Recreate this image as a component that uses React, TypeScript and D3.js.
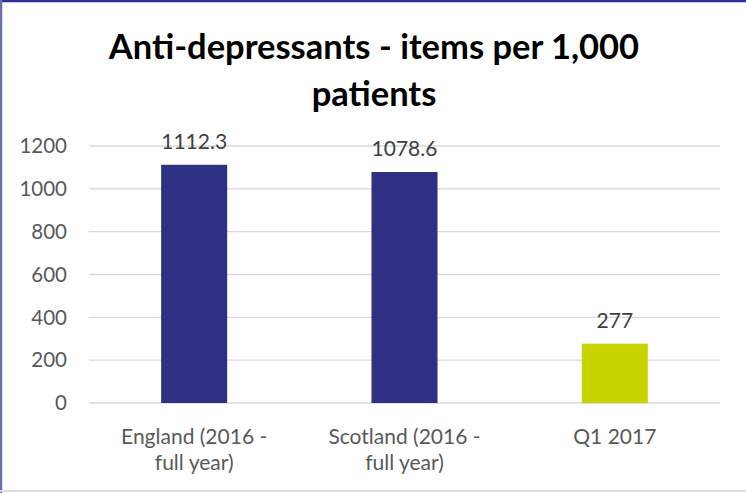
import React from "react";
import * as d3 from "d3";

const categories: string[][] = [
  ["England (2016 -", "full year)"],
  ["Scotland (2016 -", "full year)"],
  ["Q1 2017"],
];
const values: number[] = [1112.3, 1078.6, 277];
const valueLabels: string[] = ["1112.3", "1078.6", "277"];
const barColors: string[] = ["#2e3084", "#2e3084", "#c8d400"];
const yTicks: number[] = [0, 200, 400, 600, 800, 1000, 1200];
const titleLines: string[] = ["Anti-depressants - items per 1,000", "patients"];

const W = 746;
const H = 493;
const FONT = "Lato, 'Open Sans', sans-serif";

export default function App() {
  const x = d3
    .scaleBand<number>()
    .domain(categories.map((_, i) => i))
    .range([89, 720])
    .padding(0);
  const y = d3.scaleLinear().domain([0, 1200]).range([403, 146]);
  const barW = x.bandwidth() * 0.314;

  return (
    <svg
      width={W}
      height={H}
      style={{ position: "absolute", left: 0, top: 0, background: "#fff" }}
    >
      <rect x={0} y={0} width={W} height={H} fill="#fff" />
      <line x1={0} x2={W} y1={1} y2={1} stroke="#2e3192" strokeWidth={2.5} />
      <line x1={1} x2={1} y1={0} y2={H} stroke="#6b6bb3" strokeWidth={2.5} />
      <line x1={0} x2={W} y1={491} y2={491} stroke="#dcdcf2" strokeWidth={2} />

      {titleLines.map((t, i) => (
        <text
          key={i}
          x={374}
          y={59 + i * 47}
          textAnchor="middle"
          fontFamily={FONT}
          fontWeight={700}
          fontSize={34.5}
          fill="#000"
        >
          {t}
        </text>
      ))}

      {yTicks.map((t) => (
        <g key={t}>
          <line
            x1={89}
            x2={720}
            y1={y(t)}
            y2={y(t)}
            stroke="#d9d9d9"
            strokeWidth={1.3}
          />
          <text
            x={67}
            y={y(t)}
            dy="0.35em"
            textAnchor="end"
            fontFamily={FONT}
            fontSize={20.5}
            fill="#595959"
          >
            {t}
          </text>
        </g>
      ))}

      {values.map((v, i) => {
        const cx = (x(i) as number) + x.bandwidth() / 2;
        return (
          <g key={i}>
            <rect
              x={cx - barW / 2}
              y={y(v)}
              width={barW}
              height={y(0) - y(v)}
              fill={barColors[i]}
            />
            <text
              x={cx}
              y={y(v) - 23}
              dy="0.35em"
              textAnchor="middle"
              fontFamily={FONT}
              fontSize={21}
              fill="#404040"
            >
              {valueLabels[i]}
            </text>
            {categories[i].map((line, j) => (
              <text
                key={j}
                x={cx}
                y={437 + j * 26}
                dy="0.35em"
                textAnchor="middle"
                fontFamily={FONT}
                fontSize={21}
                fill="#595959"
              >
                {line}
              </text>
            ))}
          </g>
        );
      })}
    </svg>
  );
}
